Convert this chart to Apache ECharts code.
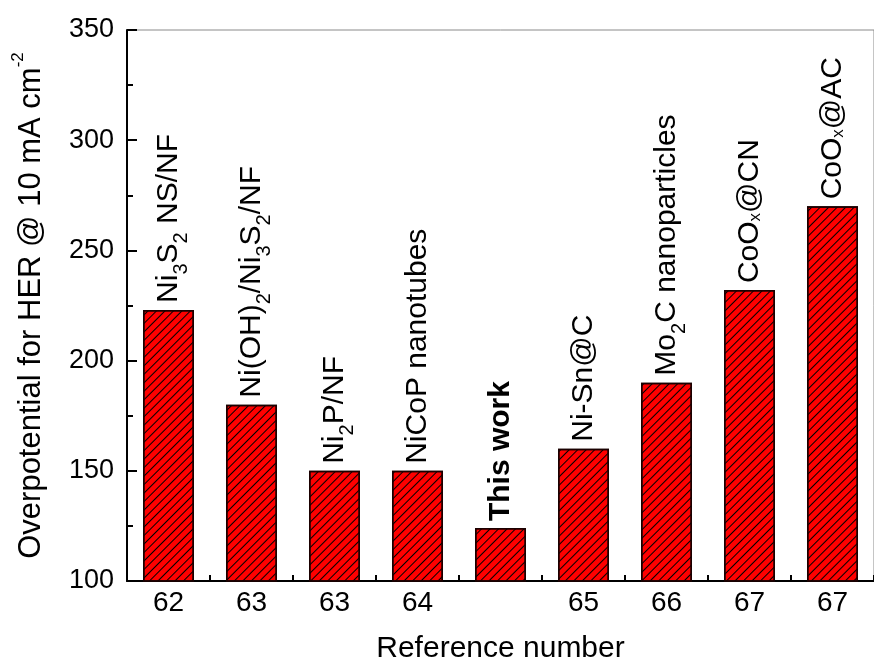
<!DOCTYPE html>
<html>
<head>
<meta charset="utf-8">
<script src="https://cdn.jsdelivr.net/npm/echarts@6/dist/echarts.min.js"></script>
<style>
html,body{margin:0;padding:0;background:#fff;}
#chart{width:874px;height:669px;}
</style>
</head>
<body>
<div id="chart"></div>
<script>
// Reference numbers (x tick labels)
const categories = ['62', '63', '63', '64', '', '65', '66', '67', '67'];
// Overpotential (mV) at 10 mA cm^-2
const values = [223, 180, 150, 150, 124, 160, 190, 232, 270];
// Bar annotations (rich text: s = subscript, x = small x, b = bold)
const barLabels = [
  'Ni{s|3}S{s|2} NS/NF',
  'Ni(OH){s|2}/Ni{s|3}S{s|2}/NF',
  'Ni{s|2}P/NF',
  'NiCoP nanotubes',
  '{b|This work}',
  'Ni-Sn@C',
  'Mo{s|2}C nanoparticles',
  'CoO{x|x}@CN',
  'CoO{x|x}@AC'
];
const yMin = 100, yMax = 350, yStep = 50;

const REG = "'Liberation Sans', Arial, sans-serif";

const chart = echarts.init(document.getElementById('chart'));

const seriesData = values.map((v, i) => ({
  value: v,
  label: { formatter: barLabels[i] }
}));

chart.setOption({
  animation: false,
  backgroundColor: '#fff',
  grid: {
    left: 127, top: 30, width: 756, height: 558,
    show: true, borderColor: '#8a8a8a', borderWidth: 1, backgroundColor: 'transparent'
  },
  xAxis: [
    {
      type: 'category', data: categories, position: 'bottom',
      name: 'Reference number', nameLocation: 'middle', nameGap: 53,
      nameTextStyle: { fontFamily: REG, fontSize: 30, color: '#000' },
      axisLine: { show: true, lineStyle: { color: '#000', width: 2 } },
      axisTick: { show: true, inside: true, length: 10, alignWithLabel: true, lineStyle: { color: '#000', width: 2 } },
      axisLabel: { fontFamily: REG, fontSize: 28, color: '#000', margin: 8, interval: 0 },
      splitLine: { show: false }
    },
    {
      type: 'category', data: categories, position: 'bottom', gridIndex: 0,
      axisLine: { show: false },
      axisTick: { show: true, inside: true, length: 6, alignWithLabel: false, lineStyle: { color: '#000', width: 2 } },
      axisLabel: { show: false },
      splitLine: { show: false }
    }
  ],
  yAxis: {
    type: 'value', min: yMin, max: yMax, interval: yStep,
    name: 'Overpotential for HER @ 10 mA cm{sup|-2}',
    nameLocation: 'middle', nameGap: 75, nameRotate: 90,
    nameTextStyle: {
      fontFamily: REG, fontSize: 31, color: '#000', lineHeight: 42,
      rich: {
        sup: { fontFamily: REG, fontSize: 17, lineHeight: 17, verticalAlign: 'top', color: '#000' }
      }
    },
    axisLine: { show: true, lineStyle: { color: '#000', width: 2 } },
    axisTick: { show: true, inside: true, length: 10, lineStyle: { color: '#000', width: 2 } },
    minorTick: { show: true, splitNumber: 2, length: 6, lineStyle: { color: '#000', width: 2 } },
    axisLabel: { fontFamily: REG, fontSize: 27, color: '#000', margin: 13 },
    splitLine: { show: false },
    minorSplitLine: { show: false }
  },
  series: [{
    type: 'bar',
    xAxisIndex: 0,
    data: seriesData,
    barWidth: 51,
    itemStyle: {
      color: '#ff0000',
      borderColor: '#1a0000',
      borderWidth: 1.5,
      decal: {
        symbol: 'rect', symbolSize: 1, color: '#000',
        dashArrayX: [1, 0], dashArrayY: [1, 5], rotation: -Math.PI / 4
      }
    },
    label: {
      show: true, position: 'top', rotate: 90, distance: 7,
      align: 'left', verticalAlign: 'middle',
      fontFamily: REG, fontSize: 30, color: '#000', lineHeight: 46,
      rich: {
        s: { fontFamily: REG, fontSize: 20, lineHeight: 19, verticalAlign: 'bottom', color: '#000' },
        x: { fontFamily: REG, fontSize: 17, verticalAlign: 'bottom', padding: [0, 0, 9, 0], color: '#000' },
        b: { fontFamily: REG, fontSize: 30, fontWeight: 'bold', lineHeight: 46, color: '#000' }
      }
    }
  }]
});
</script>
</body>
</html>
